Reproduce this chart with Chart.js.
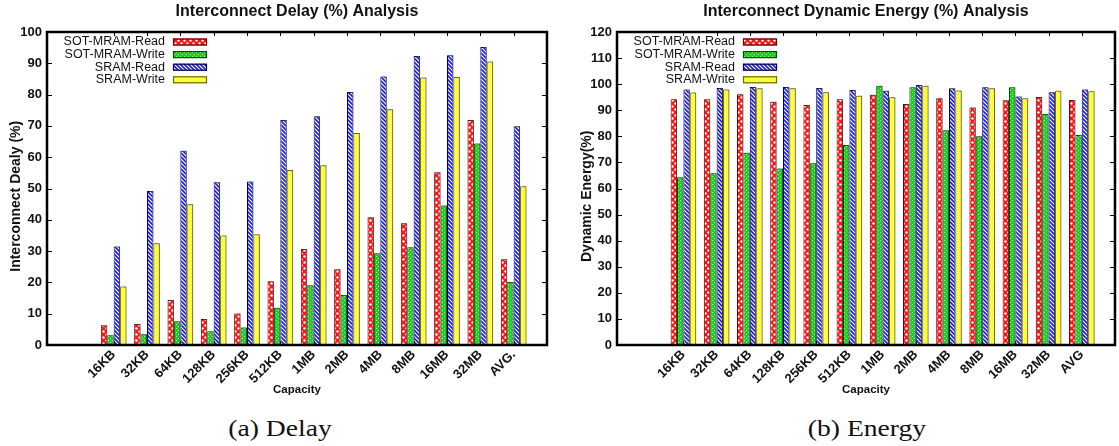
<!DOCTYPE html>
<html>
<head>
<meta charset="utf-8">
<script src="https://cdn.jsdelivr.net/npm/chart.js"></script>
<style>
  html, body { margin: 0; padding: 0; background: #fff; }
  body { width: 1119px; height: 446px; overflow: hidden; position: relative; }
  canvas { position: absolute; top: 0; }
  #delay { left: 0; }
  #energy { left: 560px; }
  .caption {
    position: absolute; top: 416px; width: 200px; text-align: center;
    font-family: "Liberation Serif", serif; font-size: 23px; color: #111;
    transform: scaleX(1.2);
  }
</style>
</head>
<body>
<canvas id="delay" width="560" height="400"></canvas>
<canvas id="energy" width="568" height="400"></canvas>
<div class="caption" style="left:180px">(a) Delay</div>
<div class="caption" style="left:767px">(b) Energy</div>
<script>
(function () {
    "use strict";

    // Categories
    var delayCategories = ["16KB", "32KB", "64KB", "128KB", "256KB", "512KB", "1MB", "2MB", "4MB", "8MB", "16MB", "32MB", "AVG."];
    var energyCategories = ["16KB", "32KB", "64KB", "128KB", "256KB", "512KB", "1MB", "2MB", "4MB", "8MB", "16MB", "32MB", "AVG"];
    var seriesNames = ["SOT-MRAM-Read", "SOT-MRAM-Write", "SRAM-Read", "SRAM-Write"];

    // Interconnect delay (%)
    var delaySotRead   = [6.3, 6.7, 14.4, 8.3, 10.1, 20.4, 30.7, 24.2, 40.8, 38.9, 55.2, 71.9, 27.4];
    var delaySotWrite  = [3.1, 3.4, 7.6, 4.4, 5.6, 11.9, 19.1, 16.0, 29.3, 31.2, 44.6, 64.4, 20.1];
    var delaySramRead  = [31.5, 49.2, 62.1, 52.0, 52.2, 71.9, 73.1, 80.8, 85.8, 92.3, 92.6, 95.2, 69.9];
    var delaySramWrite = [18.7, 32.5, 45.0, 35.0, 35.4, 55.9, 57.4, 67.7, 75.3, 85.5, 85.6, 90.6, 50.7];

    // Interconnect dynamic energy (%)
    var energySotRead   = [94.2, 94.2, 96.1, 93.3, 92.0, 94.2, 95.9, 92.4, 94.6, 91.1, 93.8, 95.1, 93.9];
    var energySotWrite  = [64.3, 65.8, 73.7, 67.7, 69.7, 76.7, 99.4, 98.8, 82.3, 80.0, 98.8, 88.6, 80.5];
    var energySramRead  = [98.0, 98.5, 98.9, 98.9, 98.5, 97.8, 97.5, 99.7, 98.4, 98.8, 95.3, 96.9, 98.0];
    var energySramWrite = [96.8, 98.0, 98.4, 98.4, 96.9, 95.6, 95.0, 99.4, 97.6, 98.4, 94.6, 97.5, 97.3];

    var FONT = "'Liberation Sans', Arial, Helvetica, sans-serif";

    // Fill patterns (gnuplot style)
    function makePattern(size, paint) {
        var c = document.createElement("canvas");
        c.width = size; c.height = size;
        var g = c.getContext("2d");
        paint(g, size);
        return g.createPattern(c, "repeat");
    }
    var redFill = makePattern(6, function (g, s) {
        g.fillStyle = "#ff1414"; g.fillRect(0, 0, s, s);
        g.fillStyle = "#ffffff";
        g.beginPath(); g.arc(1.5, 1.5, 1.2, 0, Math.PI * 2); g.fill();
        g.beginPath(); g.arc(4.5, 4.5, 1.2, 0, Math.PI * 2); g.fill();
    });
    var greenFill = makePattern(4, function (g, s) {
        g.fillStyle = "#16d616"; g.fillRect(0, 0, s, s);
        g.fillStyle = "#b5f5b5";
        g.fillRect(0, 0, 1, 1); g.fillRect(2, 2, 1, 1);
    });
    var blueFill = makePattern(4, function (g, s) {
        g.fillStyle = "#ffffff"; g.fillRect(0, 0, s, s);
        g.strokeStyle = "#1a1af0"; g.lineWidth = 1.6;
        g.beginPath();
        g.moveTo(-1, -1); g.lineTo(s + 1, s + 1);
        g.moveTo(-1, s - 1); g.lineTo(1, s + 1);
        g.moveTo(s - 1, -1); g.lineTo(s + 1, 1);
        g.stroke();
    });
    var yellowFill = makePattern(4, function (g, s) {
        g.fillStyle = "#ffffb0"; g.fillRect(0, 0, s, s);
        g.strokeStyle = "#ffff10"; g.lineWidth = 2;
        g.beginPath();
        g.moveTo(-1, s + 1); g.lineTo(s + 1, -1);
        g.moveTo(-1, 1); g.lineTo(1, -1);
        g.moveTo(s - 1, s + 1); g.lineTo(s + 1, s - 1);
        g.stroke();
    });
    var fills = [redFill, greenFill, blueFill, yellowFill];
    var borders = ["#6a0000", "#004a00", "#00005e", "#6a6a00"];

    // two empty slots before the first category and one after the last
    function padLabels(cats) {
        return ["", ""].concat(cats, [""]);
    }
    function padData(vals) {
        return [null, null].concat(vals, [null]);
    }

    // Frame, inward ticks, bar shadow, title, key
    var gnuplotLook = {
        id: "gnuplotLook",
        beforeDatasetsDraw: function (chart) {
            var a = chart.chartArea, ctx = chart.ctx;
            var xs = chart.scales.x, ys = chart.scales.y;
            ctx.save();
            ctx.strokeStyle = "#000"; ctx.lineWidth = 1;
            ctx.beginPath();
            xs.ticks.forEach(function (t, i) {
                if (!t.label) return;
                var px = Math.round(xs.getPixelForTick(i)) + 0.5;
                ctx.moveTo(px, a.top); ctx.lineTo(px, a.top + 4);
                ctx.moveTo(px, a.bottom); ctx.lineTo(px, a.bottom - 4);
            });
            ys.ticks.forEach(function (t, i) {
                var py = Math.round(ys.getPixelForTick(i)) + 0.5;
                ctx.moveTo(a.left, py); ctx.lineTo(a.left + 5, py);
                ctx.moveTo(a.right, py); ctx.lineTo(a.right - 5, py);
            });
            ctx.stroke();
            ctx.restore();
            ctx.save();
            ctx.shadowColor = "rgba(90,90,90,0.55)";
            ctx.shadowOffsetX = 1.5;
            ctx.shadowOffsetY = -1;
            ctx.shadowBlur = 0;
        },
        afterDatasetsDraw: function (chart) {
            var a = chart.chartArea, ctx = chart.ctx;
            ctx.restore();
            ctx.save();
            ctx.strokeStyle = "#000"; ctx.lineWidth = 2.5;
            ctx.strokeRect(a.left, a.top, a.right - a.left, a.bottom - a.top);
            ctx.restore();
        },
        afterDraw: function (chart, args, opts) {
            var a = chart.chartArea, ctx = chart.ctx;
            ctx.save();
            ctx.fillStyle = "#111";
            ctx.font = "bold 16px " + FONT;
            ctx.textAlign = "center"; ctx.textBaseline = "middle";
            ctx.fillText(opts.title, (a.left + a.right) / 2, 12);
            // key
            ctx.font = "12.5px " + FONT;
            ctx.textAlign = "right";
            seriesNames.forEach(function (name, i) {
                var cy = 42 + i * 12.6;
                ctx.fillStyle = "#111";
                ctx.fillText(name, a.left + 118, cy);
                ctx.fillStyle = fills[i];
                ctx.fillRect(a.left + 126, cy - 3.5, 34, 7);
                ctx.strokeStyle = borders[i]; ctx.lineWidth = 1.2;
                ctx.strokeRect(a.left + 126.5, cy - 3, 33, 6);
            });
            ctx.restore();
        }
    };

    function buildChart(id, title, yTitle, cats, series, yMax, axisWidth, yTitlePad) {
        var ctx = document.getElementById(id).getContext("2d");
        return new Chart(ctx, {
            type: "bar",
            data: {
                labels: padLabels(cats),
                datasets: series.map(function (vals, i) {
                    return {
                        label: seriesNames[i],
                        data: padData(vals),
                        backgroundColor: fills[i],
                        borderColor: borders[i],
                        borderWidth: 1,
                        categoryPercentage: 0.77,
                        barPercentage: 1.0
                    };
                })
            },
            options: {
                responsive: false,
                animation: false,
                layout: { padding: { top: 32, right: 4, left: 0, bottom: 0 } },
                plugins: {
                    legend: { display: false },
                    tooltip: { enabled: false },
                    gnuplotLook: { title: title }
                },
                scales: {
                    x: {
                        type: "category",
                        offset: false,
                        grid: { display: false, drawTicks: false },
                        border: { display: false },
                        ticks: {
                            autoSkip: false, minRotation: 45, maxRotation: 45,
                            padding: 2, color: "#111",
                            font: { family: FONT, size: 13, weight: "bold" }
                        },
                        title: {
                            display: true, text: "Capacity", color: "#111",
                            font: { family: FONT, size: 11.5, weight: "bold" },
                            padding: { top: 0, bottom: 3 }
                        },
                        afterFit: function (scale) { scale.height = 55; }
                    },
                    y: {
                        min: 0, max: yMax,
                        grid: { display: false, drawTicks: false },
                        border: { display: false },
                        ticks: {
                            stepSize: 10, padding: 5, color: "#111",
                            font: { family: FONT, size: 13, weight: "bold" }
                        },
                        title: {
                            display: true, text: yTitle, color: "#111",
                            font: { family: FONT, size: 14, weight: "bold" },
                            padding: { top: yTitlePad, bottom: 0 }
                        },
                        afterFit: function (scale) { scale.width = axisWidth; }
                    }
                }
            },
            plugins: [gnuplotLook]
        });
    }

    // trailing no-break spaces nudge the rotated axis titles down a little, as in the original
    var nudge = "\u00a0\u00a0\u00a0\u00a0";

    buildChart("delay", "Interconnect Delay (%) Analysis", "Interconnect Dealy (%)" + nudge, delayCategories,
        [delaySotRead, delaySotWrite, delaySramRead, delaySramWrite], 100, 47, 7.6);

    buildChart("energy", "Interconnect Dynamic Energy (%) Analysis", "Dynamic Energy(%)" + nudge, energyCategories,
        [energySotRead, energySotWrite, energySramRead, energySramWrite], 120, 57, 18.6);

})();
</script>
</body>
</html>
